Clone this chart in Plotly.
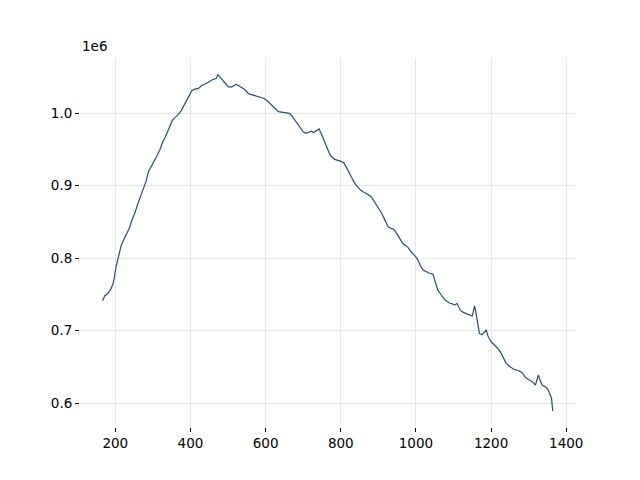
import plotly.graph_objects as go

x_vals = [166, 170, 172, 178, 187, 193, 197, 202, 208, 216, 223, 231, 238, 244, 252, 260, 268, 275, 282, 288,
          296, 304, 312, 320, 326, 333, 340, 346, 352, 357, 366, 375, 382, 390, 397, 404, 412, 421, 430, 439,
          447, 457, 465, 469, 473, 478, 483, 488, 495, 501, 510, 516, 521, 528, 534, 545, 552, 557, 565, 572,
          585, 596, 607, 614, 620, 627, 634, 647, 655, 663, 670, 678, 685, 691, 700, 707, 715, 722, 728, 734,
          742, 746, 753, 758, 764, 770, 775, 784, 797, 808, 815, 822, 830, 837, 844, 850, 860, 868, 881, 888,
          895, 902, 908, 916, 926, 933, 941, 946, 952, 958, 965, 972, 979, 985, 992, 1003, 1008, 1014, 1020, 1028,
          1036, 1045, 1050, 1054, 1058, 1066, 1076, 1083, 1089, 1096, 1103, 1109, 1114, 1118, 1126, 1134, 1144, 1150, 1153, 1156,
          1159, 1163, 1166, 1169, 1176, 1182, 1187, 1192, 1200, 1207, 1213, 1220, 1227, 1233, 1240, 1248, 1257, 1262, 1268, 1276,
          1284, 1290, 1297, 1304, 1310, 1318, 1322, 1326, 1330, 1336, 1346, 1351, 1355, 1361, 1362, 1364]

y_vals = [0.741, 0.746, 0.748, 0.750, 0.756, 0.763, 0.772, 0.788, 0.802, 0.818, 0.826, 0.834, 0.842, 0.852, 0.862, 0.875, 0.886, 0.896, 0.906, 0.919,
          0.926, 0.935, 0.942, 0.951, 0.960, 0.967, 0.976, 0.983, 0.990, 0.993, 0.997, 1.003, 1.010, 1.019, 1.026, 1.031, 1.033, 1.034, 1.038, 1.040,
          1.042, 1.0455, 1.0465, 1.048, 1.053, 1.050, 1.046, 1.043, 1.039, 1.036, 1.036, 1.038, 1.0395, 1.038, 1.036, 1.032, 1.028, 1.026, 1.025, 1.024,
          1.0225, 1.020, 1.0156, 1.012, 1.0087, 1.005, 1.002, 1.001, 1.000, 0.9996, 0.996, 0.990, 0.984, 0.979, 0.974, 0.972, 0.974, 0.975, 0.973, 0.975,
          0.978, 0.974, 0.965, 0.958, 0.951, 0.944, 0.940, 0.936, 0.934, 0.9315, 0.925, 0.917, 0.910, 0.903, 0.898, 0.895, 0.891, 0.889, 0.8846, 0.879,
          0.873, 0.867, 0.8625, 0.854, 0.843, 0.841, 0.8396, 0.836, 0.8317, 0.826, 0.820, 0.817, 0.8147, 0.810, 0.8055, 0.7996, 0.794, 0.787, 0.783, 0.781,
          0.779, 0.778, 0.770, 0.765, 0.756, 0.750, 0.743, 0.740, 0.738, 0.737, 0.735, 0.7375, 0.732, 0.728, 0.725, 0.7228, 0.721, 0.720, 0.727, 0.734,
          0.727, 0.7145, 0.704, 0.696, 0.694, 0.697, 0.7007, 0.692, 0.6846, 0.681, 0.6777, 0.674, 0.6685, 0.662, 0.6547, 0.651, 0.648, 0.646, 0.6455, 0.644,
          0.641, 0.636, 0.633, 0.631, 0.6294, 0.6248, 0.631, 0.6386, 0.632, 0.6248, 0.6217, 0.619, 0.614, 0.6065, 0.600, 0.589]

y_scale = 1e6
y_data = [v * y_scale for v in y_vals]

x_ticks = [200, 400, 600, 800, 1000, 1200, 1400]
y_ticks = [0.6, 0.7, 0.8, 0.9, 1.0]
y_tick_labels = ["0.6", "0.7", "0.8", "0.9", "1.0"]

fig = go.Figure()
fig.add_trace(go.Scatter(x=x_vals, y=y_data, mode="lines",
                         line=dict(color="#2a4b76", width=1.2), showlegend=False))

font = dict(family="DejaVu Sans", size=13.5, color="#000000")
fig.update_layout(
    width=632, height=472,
    margin=dict(l=72, r=64, t=50, b=53),
    paper_bgcolor="white", plot_bgcolor="white",
    font=font,
    xaxis=dict(range=[106, 1426], tickvals=x_ticks, showline=False, zeroline=False,
               showgrid=True, gridcolor="#e6e6e6", gridwidth=1.3,
               ticks="outside", ticklen=4, tickwidth=1, tickcolor="#000000",
               tickfont=font),
    yaxis=dict(range=[0.5669e6, 1.0759e6], tickvals=[v * y_scale for v in y_ticks], ticktext=y_tick_labels,
               showline=False, zeroline=False,
               showgrid=True, gridcolor="#e6e6e6", gridwidth=1.3,
               ticks="outside", ticklen=4, tickwidth=1, tickcolor="#000000",
               tickfont=font),
    annotations=[dict(text="1e6", xref="paper", yref="paper", x=0, y=1, xanchor="left", yanchor="bottom",
                      yshift=2, xshift=0, showarrow=False, font=font)],
)

fig.write_html("out.html")
